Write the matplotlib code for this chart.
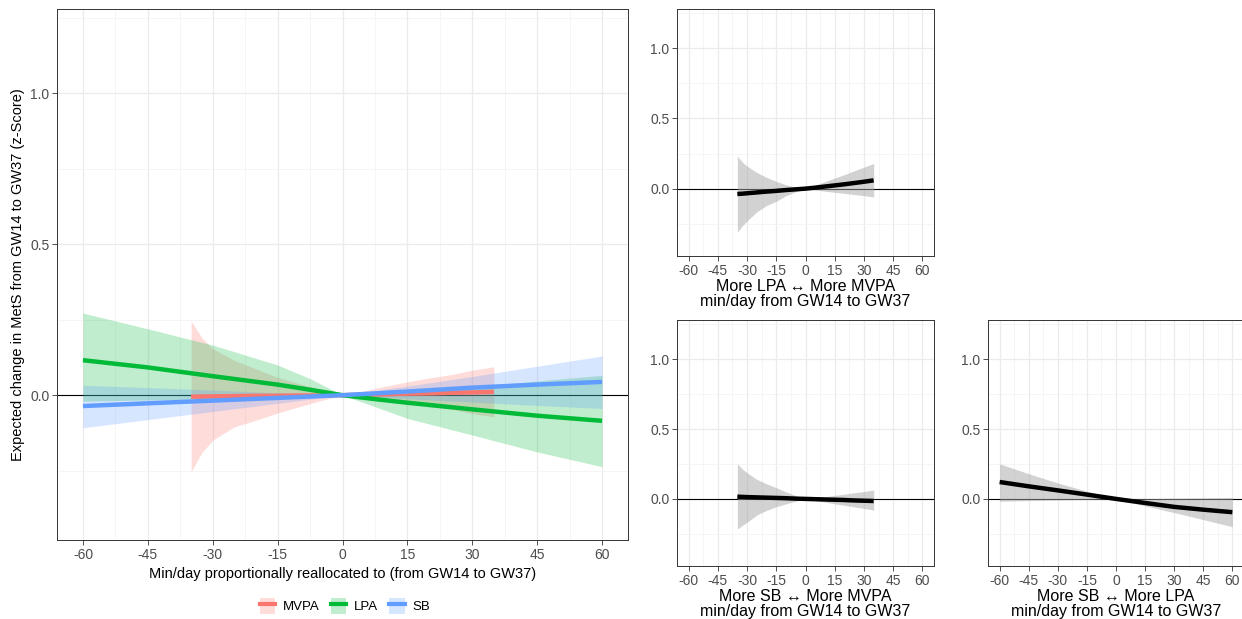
import numpy as np
import matplotlib.pyplot as plt
from matplotlib.patches import Patch
from matplotlib.lines import Line2D

plt.rcParams['font.family'] = ['Liberation Sans', 'DejaVu Sans']
plt.rcParams['axes.unicode_minus'] = False

W, H = 1242, 619

# ---- main panel: proportional reallocation ----
mvpa_x = [-35, -32.5, -30, -25, -20, -15, -10, -5, 0, 5, 10, 15, 20, 25, 30, 35]
mvpa_y = [-0.005, -0.0045, -0.004, -0.003, -0.002, -0.002, -0.001, -0.001, 0, 0.002, 0.003, 0.005, 0.006, 0.008, 0.009, 0.011]
mvpa_hi = [0.246, 0.19, 0.154, 0.115, 0.087, 0.059, 0.038, 0.018, 0, 0.014, 0.030, 0.044, 0.057, 0.068, 0.083, 0.094]
mvpa_lo = [-0.254, -0.19, -0.149, -0.105, -0.083, -0.059, -0.038, -0.018, 0, -0.010, -0.018, -0.028, -0.038, -0.046, -0.061, -0.072]

lpa_x = [-60, -45, -30, -15, -7.5, 0, 7.5, 15, 30, 45, 60]
lpa_y = [0.116, 0.092, 0.063, 0.035, 0.018, 0, -0.013, -0.025, -0.047, -0.068, -0.085]
lpa_hi = [0.272, 0.22, 0.166, 0.10, 0.055, 0, 0.006, 0.011, 0.028, 0.047, 0.066]
lpa_lo = [-0.02, -0.016, -0.012, -0.006, -0.003, 0, -0.038, -0.077, -0.132, -0.188, -0.237]

sb_x = [-60, -45, -30, -15, 0, 15, 30, 45, 60]
sb_y = [-0.036, -0.027, -0.018, -0.009, 0, 0.012, 0.025, 0.035, 0.044]
sb_hi = [0.033, 0.025, 0.017, 0.008, 0, 0.030, 0.062, 0.096, 0.130]
sb_lo = [-0.108, -0.081, -0.054, -0.027, 0, -0.012, -0.023, -0.034, -0.044]

# ---- pairwise panels ----
pair_x = [-35, -32.5, -30, -25, -20, -15, -10, -5, 0, 5, 10, 15, 20, 25, 30, 35]
lm_y = [-0.038, -0.036, -0.033, -0.027, -0.021, -0.016, -0.010, -0.005, 0, 0.007, 0.015, 0.023, 0.031, 0.040, 0.049, 0.059]
lm_hi = [0.231, 0.19, 0.16, 0.115, 0.08, 0.052, 0.027, 0.010, 0, 0.025, 0.050, 0.076, 0.100, 0.127, 0.153, 0.179]
lm_lo = [-0.312, -0.265, -0.23, -0.165, -0.12, -0.09, -0.05, -0.022, 0, -0.010, -0.018, -0.026, -0.034, -0.042, -0.050, -0.059]

sm_y = [0.016, 0.0145, 0.013, 0.011, 0.009, 0.007, 0.005, 0.002, 0, -0.002, -0.004, -0.006, -0.008, -0.011, -0.013, -0.015]
sm_hi = [0.25, 0.215, 0.187, 0.14, 0.108, 0.08, 0.05, 0.024, 0, 0.008, 0.016, 0.025, 0.034, 0.044, 0.053, 0.063]
sm_lo = [-0.216, -0.19, -0.167, -0.115, -0.082, -0.056, -0.035, -0.016, 0, -0.012, -0.023, -0.035, -0.046, -0.057, -0.068, -0.080]

sl_x = [-60, -45, -30, -15, 0, 15, 30, 45, 60]
sl_y = [0.121, 0.090, 0.061, 0.031, 0, -0.029, -0.057, -0.077, -0.095]
sl_hi = [0.251, 0.18, 0.114, 0.055, 0, 0.002, 0.005, 0.008, 0.011]
sl_lo = [-0.017, -0.012, -0.008, -0.004, 0, -0.05, -0.098, -0.148, -0.199]

xticks = [-60, -45, -30, -15, 0, 15, 30, 45, 60]
yticks = [0.0, 0.5, 1.0]
colors = {'MVPA': '#F8766D', 'LPA': '#00BA38', 'SB': '#619CFF'}


def box(l, t, r, b):
    return [l / W, 1 - b / H, (r - l) / W, (b - t) / H]


def style(ax):
    ax.set_xlim(-66, 66)
    ax.set_ylim(-0.48, 1.28)
    ax.set_xticks(xticks)
    ax.set_xticklabels([str(v) for v in xticks])
    ax.set_xticks(np.arange(-52.5, 53, 15), minor=True)
    ax.set_yticks(yticks)
    ax.set_yticklabels(['%.1f' % v for v in yticks])
    ax.set_yticks([-0.25, 0.25, 0.75, 1.25], minor=True)
    ax.grid(which='major', color='#EBEBEB', lw=0.9)
    ax.grid(which='minor', color='#F2F2F2', lw=0.5)
    ax.set_axisbelow(True)
    ax.tick_params(which='major', length=3.5, width=0.6, color='#333333',
                   labelsize=10, labelcolor='#4D4D4D', pad=2)
    ax.tick_params(which='minor', length=0)
    for s in ax.spines.values():
        s.set_color('#333333')
        s.set_linewidth(0.7)
    ax.axhline(0, color='black', lw=0.8, zorder=1)


fig = plt.figure(figsize=(W / 100, H / 100), dpi=100)

ax = fig.add_axes(box(57, 9, 628, 540))
style(ax)
series = [('MVPA', mvpa_x, mvpa_y, mvpa_lo, mvpa_hi),
          ('LPA', lpa_x, lpa_y, lpa_lo, lpa_hi),
          ('SB', sb_x, sb_y, sb_lo, sb_hi)]
for name, x, y, lo, hi in series:
    ax.fill_between(x, lo, hi, color=colors[name], alpha=0.25, lw=0, zorder=2)
for name, x, y, lo, hi in series:
    ax.plot(x, y, color=colors[name], lw=3.2, solid_capstyle='butt', zorder=3)
ax.set_xlabel('Min/day proportionally reallocated to (from GW14 to GW37)', fontsize=10.5, labelpad=4)
ax.set_ylabel('Expected change in MetS from GW14 to GW37 (z-Score)', fontsize=10.5, labelpad=4)

handles = [(Patch(facecolor=colors[n], alpha=0.25, lw=0),
            Line2D([], [], color=colors[n], lw=3)) for n in colors]
fig.legend(handles, list(colors), loc='center', bbox_to_anchor=(345 / W, 1 - 606 / H),
           ncol=3, frameon=False, fontsize=9.5, handlelength=1.2, handleheight=1.5,
           columnspacing=0.8, handletextpad=0.6)

pairs = [(box(677, 9, 934, 256), pair_x, lm_y, lm_lo, lm_hi, 'More LPA \u2194 More MVPA'),
         (box(677, 320, 934, 566), pair_x, sm_y, sm_lo, sm_hi, 'More SB \u2194 More MVPA'),
         (box(988, 320, 1244, 566), sl_x, sl_y, sl_lo, sl_hi, 'More SB \u2194 More LPA')]
for pos, x, y, lo, hi, title in pairs:
    a = fig.add_axes(pos)
    style(a)
    a.fill_between(x, lo, hi, color='#A6A6A6', alpha=0.5, lw=0, zorder=2)
    a.plot(x, y, color='black', lw=3.2, solid_capstyle='butt', zorder=3)
    a.set_xlabel(title + '\nmin/day from GW14 to GW37', fontsize=11.5, labelpad=1,
                 linespacing=1.0)

fig.savefig('out.png', dpi=100)
